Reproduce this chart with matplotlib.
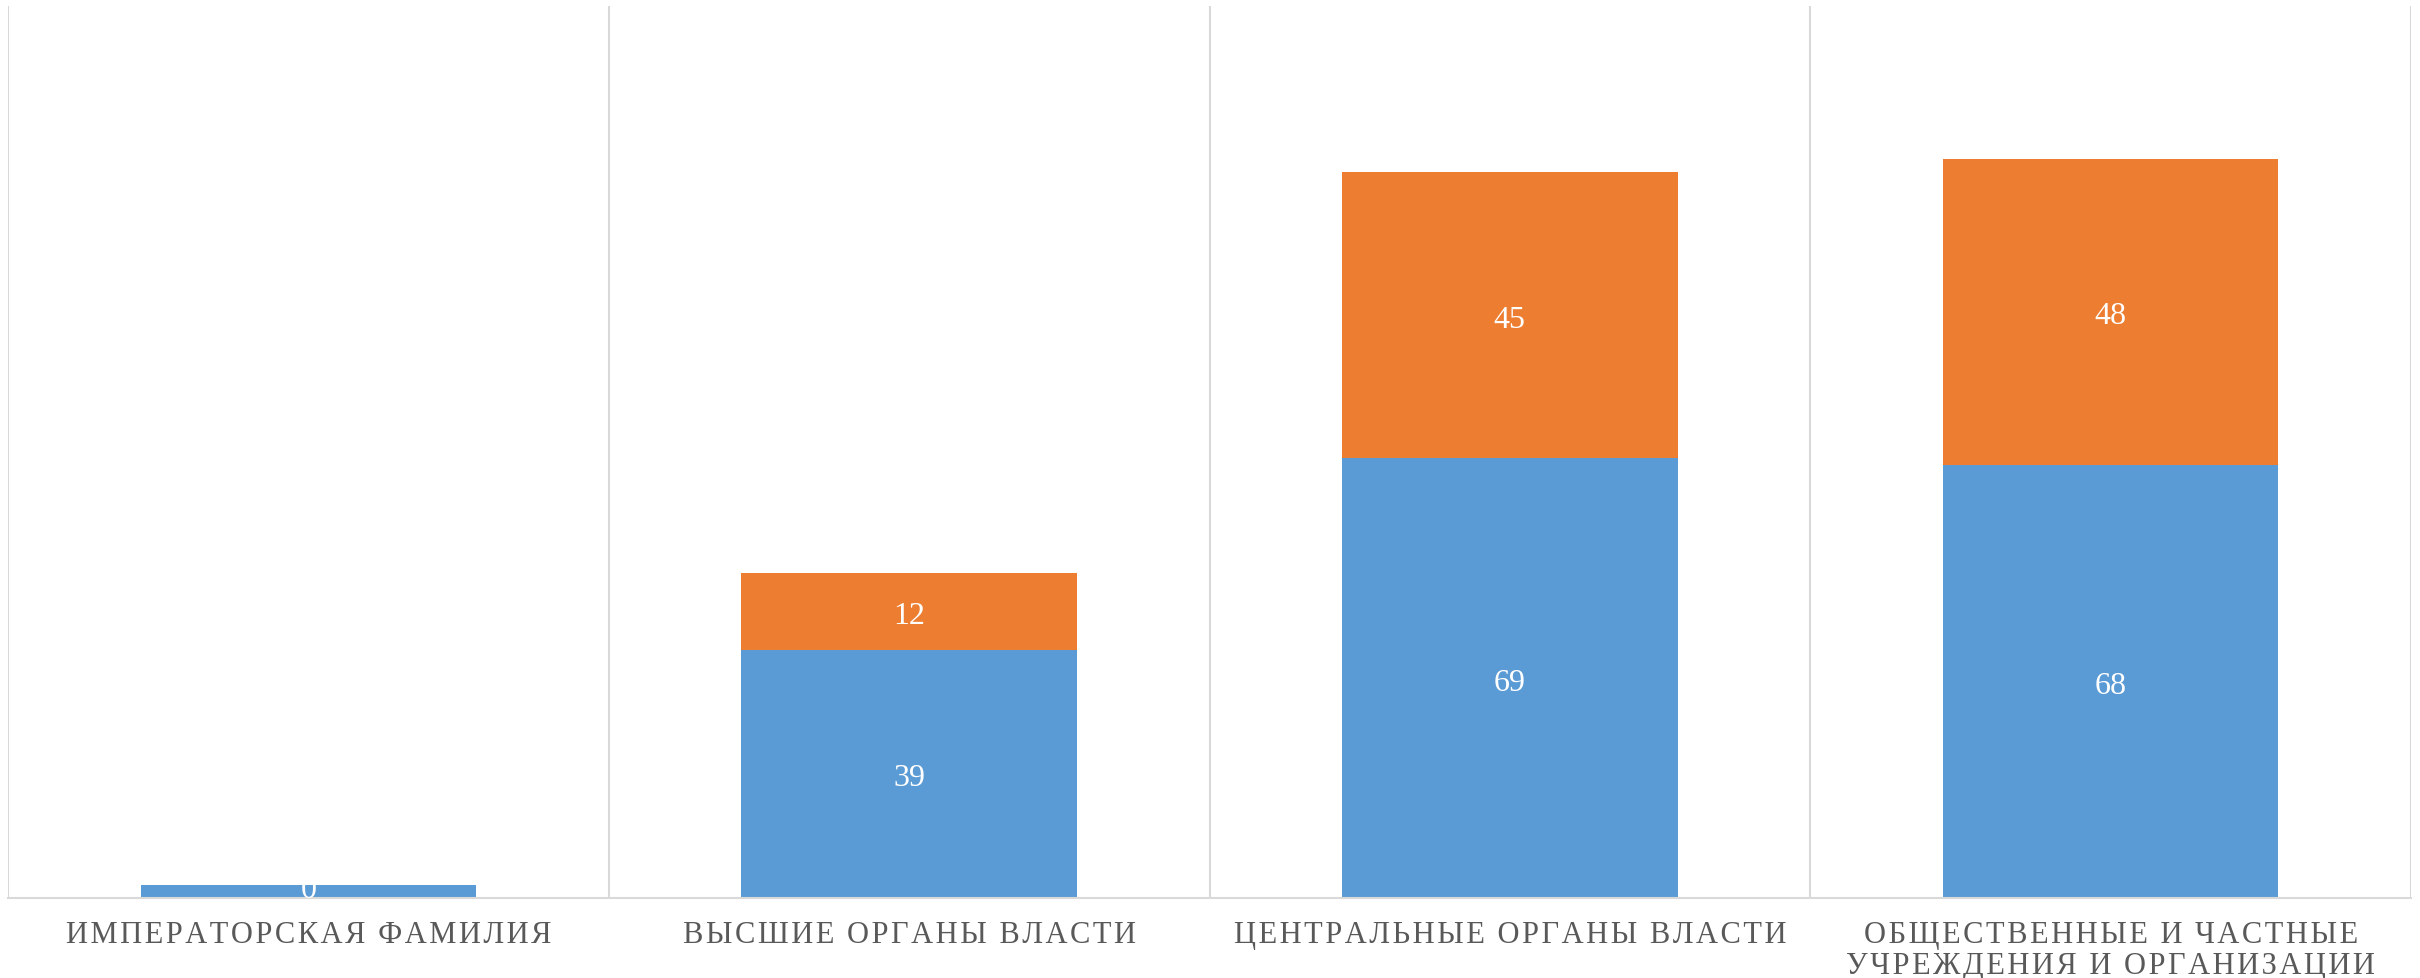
import numpy as np
import matplotlib
matplotlib.use("Agg")
import matplotlib.pyplot as plt

# --- data ---
categories = [
    "ИМПЕРАТОРСКАЯ ФАМИЛИЯ",
    "ВЫСШИЕ ОРГАНЫ ВЛАСТИ",
    "ЦЕНТРАЛЬНЫЕ ОРГАНЫ ВЛАСТИ",
    "ОБЩЕСТВЕННЫЕ И ЧАСТНЫЕ\nУЧРЕЖДЕНИЯ И ОРГАНИЗАЦИИ",
]
blue_vals = [2, 39, 69, 68]
orange_vals = [0, 12, 45, 48]
blue_labels = ["", "39", "69", "68"]
orange_labels = ["0", "12", "45", "48"]

plt.rcParams['font.family'] = ['Liberation Serif', 'DejaVu Serif']


def spaced(s, gap="\u200a"):
    # imitate Excel's letter spacing with hair spaces
    return "\n".join(gap.join(line) for line in s.split("\n"))


fig = plt.figure(figsize=(24.2, 9.79), dpi=100)
ax = fig.add_axes([8 / 2420, 1 - 899 / 979, (2411 - 8) / 2420, (899 - 7) / 979])

x = np.arange(len(categories))
w = 0.5587
b1 = ax.bar(x, blue_vals, w, color="#5B9BD5", zorder=2)
b2 = ax.bar(x, orange_vals, w, bottom=blue_vals, color="#ED7D31", zorder=2)

ax.bar_label(b1, labels=blue_labels, label_type="center", color="white",
             fontsize=23, padding=-3)
ax.bar_label(b2, labels=orange_labels, label_type="center", color="white",
             fontsize=23, padding=-3)

ax.set_xlim(-0.5, len(categories) - 0.5)
ax.set_ylim(0, 140)

# category separators
for b in np.arange(-0.5, len(categories), 1.0):
    ax.axvline(b, color="#d9d9d9", lw=1.5, zorder=1)

for s in ["top", "left", "right"]:
    ax.spines[s].set_visible(False)
ax.spines["bottom"].set_color("#d9d9d9")
ax.spines["bottom"].set_linewidth(1.5)

ax.set_yticks([])
ax.set_xticks(x)
ax.set_xticklabels([spaced(c) for c in categories], fontsize=22, color="#595959",
                   va="top", linespacing=1.06)
ax.tick_params(axis="x", length=0, pad=16)

fig.savefig("out.png", dpi=100)
